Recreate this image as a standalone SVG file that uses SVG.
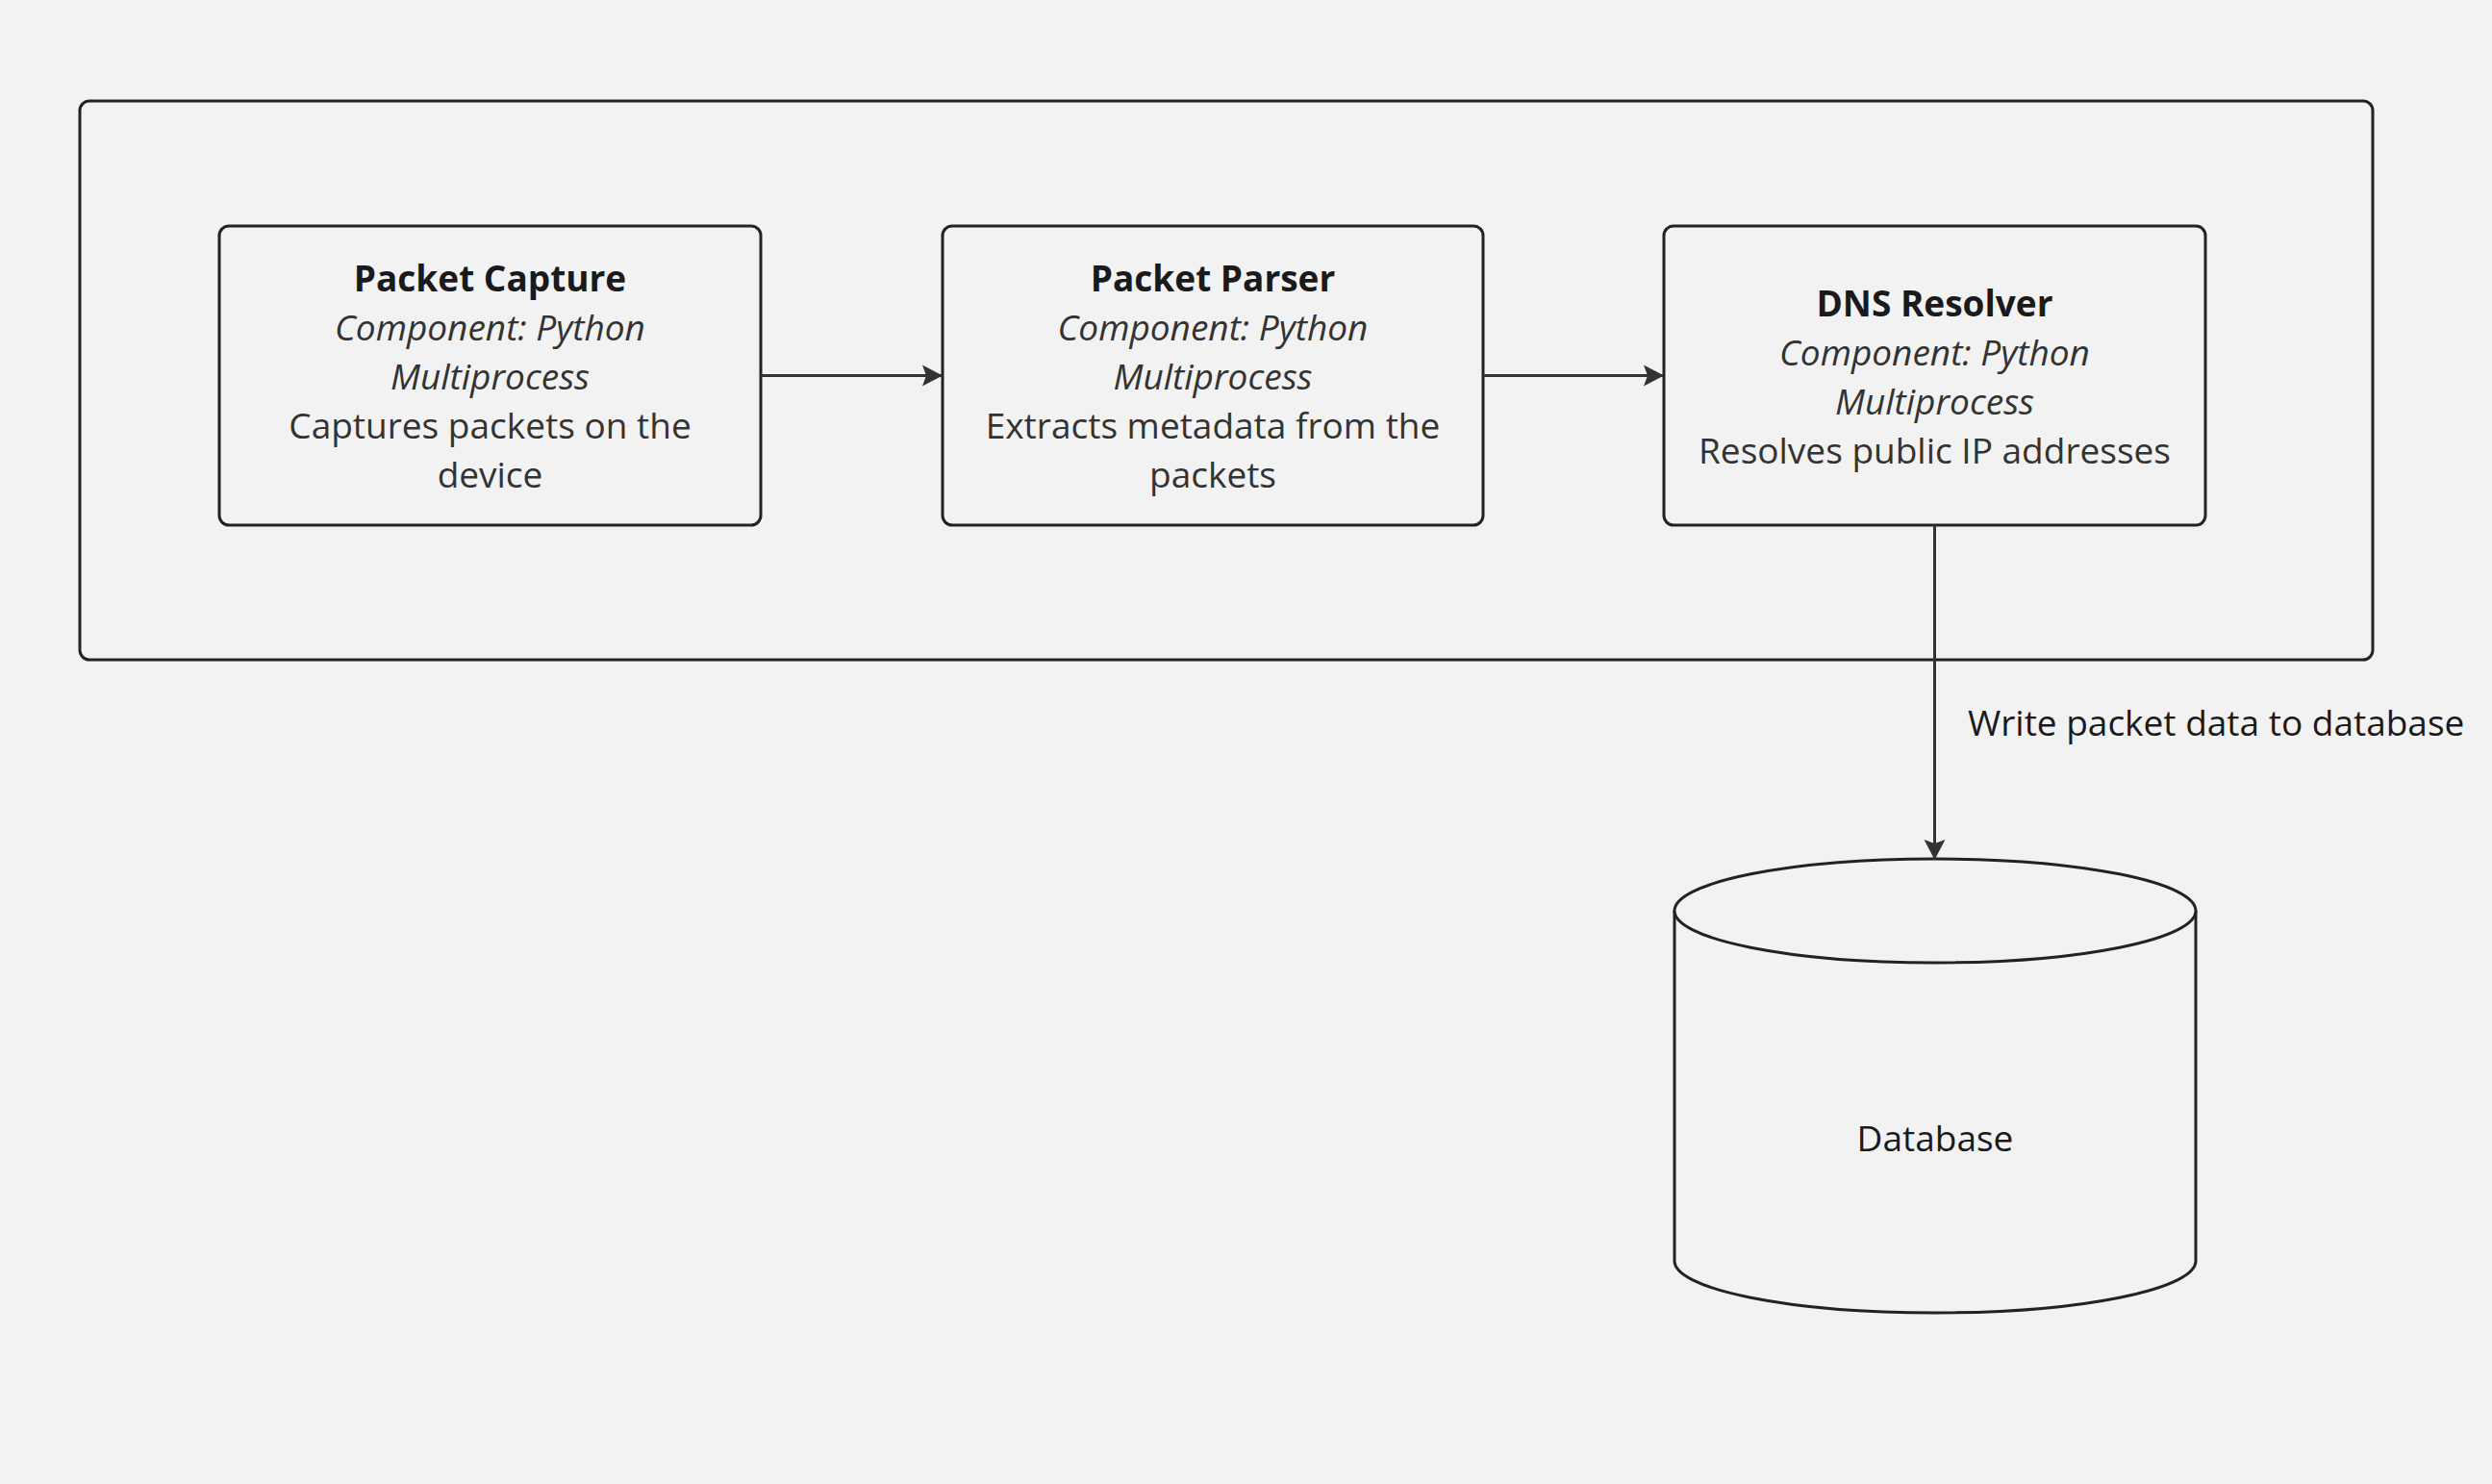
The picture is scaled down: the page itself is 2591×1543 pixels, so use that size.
<svg xmlns="http://www.w3.org/2000/svg" width="2591" height="1543" viewBox="0 0 2591 1543">
<style>
.bg{fill:#f2f2f2}
.box{fill:#f2f2f2;stroke:#222222;stroke-width:3}
.edge{fill:none;stroke:#333333;stroke-width:3}
.t{font-family:"Open Sans","Noto Sans","Liberation Sans",sans-serif;font-size:37px;text-anchor:middle}
.title{font-weight:bold;fill:#1a1a1a}
.tech{font-style:italic;fill:#333333}
.desc{fill:#333333}
.lbl{font-family:"Open Sans","Noto Sans","Liberation Sans",sans-serif;font-size:37px;fill:#1a1a1a}
</style>
<defs>
<marker id="arrow" markerUnits="userSpaceOnUse" markerWidth="24" markerHeight="24" refX="21" refY="12" orient="auto">
<path d="M1,1 L22,12 L1,23 L5,12 Z" fill="#333333"/>
</marker>
</defs>
<rect class="bg" x="0" y="0" width="2591" height="1543"/>
<g id="boundary">
<rect class="box" x="83" y="105" width="2384" height="581" rx="10" ry="10"/>
</g>
<g id="packet-capture">
<rect class="box" x="228" y="235" width="563" height="311" rx="10" ry="10"/>
<text class="t title" x="509.5" y="303">Packet Capture</text>
<text class="t tech" x="509.5" y="354">Component: Python</text>
<text class="t tech" x="509.5" y="405">Multiprocess</text>
<text class="t desc" x="509.5" y="456">Captures packets on the</text>
<text class="t desc" x="509.5" y="507">device</text>
</g>
<g id="packet-parser">
<rect class="box" x="980" y="235" width="562" height="311" rx="10" ry="10"/>
<text class="t title" x="1261" y="303">Packet Parser</text>
<text class="t tech" x="1261" y="354">Component: Python</text>
<text class="t tech" x="1261" y="405">Multiprocess</text>
<text class="t desc" x="1261" y="456">Extracts metadata from the</text>
<text class="t desc" x="1261" y="507">packets</text>
</g>
<g id="dns-resolver">
<rect class="box" x="1730" y="235" width="563" height="311" rx="10" ry="10"/>
<text class="t title" x="2011.5" y="329">DNS Resolver</text>
<text class="t tech" x="2011.5" y="380">Component: Python</text>
<text class="t tech" x="2011.5" y="431">Multiprocess</text>
<text class="t desc" x="2011.5" y="482">Resolves public IP addresses</text>
</g>
<g id="database">
<path class="box" d="M1741,947 L1741,1311 A271,54 0 0 0 2283,1311 L2283,947"/>
<ellipse class="box" cx="2012" cy="947" rx="271" ry="54"/>
<text class="t" x="2012" y="1197" fill="#1a1a1a">Database</text>
</g>
<g id="connectors">
<line class="edge" x1="791" y1="390.5" x2="979" y2="390.5" marker-end="url(#arrow)"/>
<line class="edge" x1="1542" y1="390.5" x2="1729" y2="390.5" marker-end="url(#arrow)"/>
<line class="edge" x1="2011.5" y1="546" x2="2011.5" y2="893" marker-end="url(#arrow)"/>
<text class="lbl" x="2046" y="765">Write packet data to database</text>
</g>
</svg>
